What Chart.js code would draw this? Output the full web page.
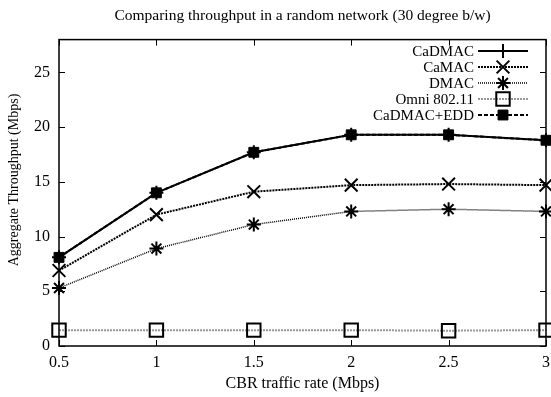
<!DOCTYPE html>
<html>
<head>
<meta charset="utf-8">
<script src="https://cdn.jsdelivr.net/npm/chart.js@4"></script>
<style>
  html, body { margin: 0; padding: 0; background: #fff; }
  #wrap { width: 551px; height: 397px; }
</style>
</head>
<body>
<div id="wrap"><canvas id="chart" width="551" height="397"></canvas></div>
<script>
const rates = [0.5, 1, 1.5, 2, 2.5, 3];
const xTicks = [0.5, 1, 1.5, 2, 2.5, 3];
const yTicks = [0, 5, 10, 15, 20, 25];

const cadmac = [8.1, 14.0, 17.7, 19.3, 19.3, 18.8];
const camac = [6.9, 12.0, 14.1, 14.7, 14.8, 14.7];
const dmac = [5.3, 8.9, 11.1, 12.3, 12.5, 12.3];
const omni = [1.45, 1.45, 1.45, 1.45, 1.4, 1.45];
const cadmacEdd = [8.1, 14.0, 17.7, 19.3, 19.3, 18.8];

const FONT = "'Liberation Serif', 'DejaVu Serif', serif";
const Y_TITLE = "Aggregate Throughput (Mbps)";

const toPoints = (ys) => ys.map((y, i) => ({ x: rates[i], y }));

// gnuplot-style inward ticks on all four sides, plus the frame
const inwardTicks = {
  id: "inwardTicks",
  afterDatasetsDraw(chart) {
    const { ctx, chartArea: a, scales } = chart;
    ctx.save();
    ctx.strokeStyle = "#000";
    ctx.lineWidth = 1;
    ctx.beginPath();
    xTicks.forEach((v) => {
      const px = Math.round(scales.x.getPixelForValue(v)) + 0.5;
      ctx.moveTo(px, a.bottom); ctx.lineTo(px, a.bottom - 6);
      ctx.moveTo(px, a.top); ctx.lineTo(px, a.top + 6);
    });
    yTicks.forEach((v) => {
      const py = Math.round(scales.y.getPixelForValue(v)) + 0.5;
      ctx.moveTo(a.left, py); ctx.lineTo(a.left + 6, py);
      ctx.moveTo(a.right, py); ctx.lineTo(a.right - 6, py);
    });
    ctx.stroke();
    ctx.lineWidth = 1.5;
    ctx.strokeRect(a.left, a.top, a.right - a.left, a.bottom - a.top);

    // y axis title, sits a bit above the middle like the original
    ctx.fillStyle = "#000";
    ctx.font = "14px " + FONT;
    ctx.textAlign = "center";
    ctx.textBaseline = "middle";
    ctx.translate(14, 180);
    ctx.rotate(-Math.PI / 2);
    ctx.fillText(Y_TITLE, 0, 0);
    ctx.restore();
  },
};

// legend inside top right: label, then line sample with marker
const keyLegend = {
  id: "keyLegend",
  afterDatasetsDraw(chart) {
    const { ctx } = chart;
    const textRight = 474, lineL = 478, lineR = 528, top = 51, rowH = 16;
    ctx.save();
    ctx.font = "15px " + FONT;
    ctx.textAlign = "right";
    ctx.textBaseline = "middle";
    chart.data.datasets.forEach((ds, i) => {
      const y = top + i * rowH;
      ctx.fillStyle = "#000";
      ctx.fillText(ds.label, textRight, y + 1);
      ctx.strokeStyle = ds.borderColor;
      ctx.lineWidth = ds.borderWidth;
      ctx.setLineDash(ds.borderDash || []);
      ctx.beginPath();
      ctx.moveTo(lineL, y); ctx.lineTo(lineR, y);
      ctx.stroke();
      ctx.setLineDash([]);
      ctx.lineWidth = ds.pointBorderWidth;
      ctx.strokeStyle = ds.pointBorderColor;
      ctx.fillStyle = ds.pointBackgroundColor;
      Chart.helpers.drawPoint(ctx, { pointStyle: ds.pointStyle, radius: ds.pointRadius, rotation: 0, borderWidth: ds.pointBorderWidth }, (lineL + lineR) / 2, y);
    });
    ctx.restore();
  },
};

new Chart(document.getElementById("chart"), {
  type: "line",
  data: {
    datasets: [
      {
        label: "CaDMAC",
        data: toPoints(cadmac),
        borderColor: "#000",
        borderWidth: 2,
        pointStyle: "cross",
        pointRadius: 7,
        pointBorderWidth: 2,
        pointBorderColor: "#000",
        pointBackgroundColor: "#000",
      },
      {
        label: "CaMAC",
        data: toPoints(camac),
        borderColor: "#000",
        borderWidth: 2,
        borderDash: [2, 1],
        pointStyle: "crossRot",
        pointRadius: 9,
        pointBorderWidth: 2,
        pointBorderColor: "#000",
        pointBackgroundColor: "#000",
      },
      {
        label: "DMAC",
        data: toPoints(dmac),
        borderColor: "#000",
        borderWidth: 1.5,
        borderDash: [1, 1],
        pointStyle: "star",
        pointRadius: 7,
        pointBorderWidth: 2,
        pointBorderColor: "#000",
        pointBackgroundColor: "#000",
      },
      {
        label: "Omni 802.11",
        data: toPoints(omni),
        borderColor: "#999",
        borderWidth: 2,
        borderDash: [2, 1],
        pointStyle: "rect",
        pointRadius: 9.5,
        pointBorderWidth: 2,
        pointBorderColor: "#000",
        pointBackgroundColor: "rgba(0,0,0,0)",
      },
      {
        label: "CaDMAC+EDD",
        data: toPoints(cadmacEdd),
        borderColor: "#000",
        borderWidth: 2,
        borderDash: [4, 2],
        pointStyle: "rect",
        pointRadius: 7,
        pointBorderWidth: 1,
        pointBorderColor: "#000",
        pointBackgroundColor: "#000",
      },
    ],
  },
  options: {
    responsive: false,
    animation: false,
    clip: false,
    layout: { autoPadding: false, padding: { left: 0, right: 5, top: 0, bottom: 0 } },
    plugins: {
      legend: { display: false },
      tooltip: { enabled: false },
      title: {
        display: true,
        fullSize: false,
        text: "Comparing throughput in a random network (30 degree b/w)",
        color: "#000",
        font: { family: FONT, size: 15.5, weight: "normal" },
        padding: { top: 7, bottom: 14 },
      },
    },
    scales: {
      x: {
        type: "linear",
        min: 0.5,
        max: 3,
        afterBuildTicks: (s) => { s.ticks = xTicks.map((v) => ({ value: v })); },
        afterFit: (s) => { s.height = 51; s.paddingLeft = 0; s.paddingRight = 0; },
        grid: { display: false, drawTicks: false },
        border: { display: false },
        ticks: { color: "#000", font: { family: FONT, size: 16 }, padding: 7, maxRotation: 0, callback: (v) => String(v) },
        title: { display: true, text: "CBR traffic rate (Mbps)", color: "#000", font: { family: FONT, size: 16 }, padding: { top: 2 } },
      },
      y: {
        type: "linear",
        min: 0,
        max: 28,
        afterBuildTicks: (s) => { s.ticks = yTicks.map((v) => ({ value: v })); },
        afterFit: (s) => { s.width = 59; s.paddingTop = 0; s.paddingBottom = 0; },
        grid: { display: false, drawTicks: false },
        border: { display: false },
        ticks: { color: "#000", font: { family: FONT, size: 16 }, padding: 9, callback: (v) => String(v) },
        title: { display: false },
      },
    },
  },
  plugins: [inwardTicks, keyLegend],
});
</script>
</body>
</html>
